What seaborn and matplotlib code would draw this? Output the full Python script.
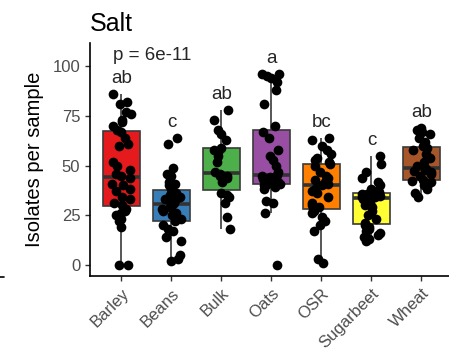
import numpy as np
import pandas as pd
import matplotlib
matplotlib.use("Agg")
import matplotlib.pyplot as plt
import seaborn as sns
from matplotlib.lines import Line2D

# values
crops = ["Barley", "Beans", "Bulk", "Oats", "OSR", "Sugarbeet", "Wheat"]
letters = ["ab", "c", "ab", "a", "bc", "c", "ab"]
colors = ["#E41A1C", "#377EB8", "#4DAF4A", "#984EA3", "#FF7F00", "#FFFF33", "#A65628"]

barley = [86, 82, 81, 77, 76, 73, 72, 70, 68, 67, 64, 61, 60, 52, 50, 48, 46, 45,
          44, 41, 40, 38, 37, 34, 33, 31, 30, 28, 27, 26, 25, 23, 22, 19, 0, 0]
beans = [64, 61, 49, 46, 45, 42, 41, 40, 38, 36, 35, 34, 33, 33, 32, 32, 31, 30,
         29, 28, 27, 26, 25, 24, 23, 22, 20, 18, 17, 14, 12, 5, 3, 2]
bulk = [78, 73, 68, 66, 63, 59, 58, 57, 55, 52, 47, 45, 46, 44, 45, 42, 36, 35,
        34, 31, 24, 18]
oats = [96, 96, 95, 94, 92, 88, 81, 70, 67, 64, 58, 55, 53, 50, 47, 45.5, 45,
        44.5, 44, 43.5, 43, 42.5, 42, 41, 40.5, 40, 39, 38, 32, 31, 26, 0]
osr = [64, 63, 60, 58, 56, 54, 53, 52, 51, 50, 47, 45, 44, 43, 42, 41, 40, 38,
       37, 36, 34, 31, 30, 29, 28, 27, 26, 24, 22, 20, 17, 3, 1]
sugarbeet = [55, 51, 47, 44, 42, 40, 38, 37, 36.5, 36, 36, 35.5, 35.5, 35, 35,
             34.5, 34, 34, 33, 32, 31, 30, 29, 27, 25, 23, 21, 20, 19, 18, 17,
             16, 15, 14, 13, 12]
wheat = [69, 68, 67, 66, 64, 62, 60, 59, 58, 56, 54, 52, 50, 49, 48.5, 48, 47.5,
         47, 46, 45, 43, 42.5, 42, 41, 40, 38, 36, 34]

groups = [barley, beans, bulk, oats, osr, sugarbeet, wheat]
df = pd.DataFrame({
    "crop": np.repeat(crops, [len(g) for g in groups]),
    "isolates": np.concatenate(groups),
})

sns.set_style("ticks")
plt.rcParams["font.family"] = ["Liberation Sans", "DejaVu Sans"]

fig = plt.figure(figsize=(4.49, 3.53), dpi=100)
ax = fig.add_axes([0.2004, 0.2181, 0.7996, 0.6599])

sns.boxplot(data=df, x="crop", y="isolates", hue="crop", order=crops,
            palette=colors, saturation=1, legend=False, width=0.75,
            showcaps=False, showfliers=False, linewidth=1.2,
            linecolor="#3A3A3A",
            medianprops=dict(linewidth=2.6, color="#333333"), ax=ax)

np.random.seed(7)
sns.stripplot(data=df, x="crop", y="isolates", order=crops, color="black",
              size=7, jitter=0.2, ax=ax)

for i, (g, lab) in enumerate(zip(groups, letters)):
    ax.text(i, max(g) + 5.5, lab, ha="center", va="baseline", fontsize=13.5)

ax.text(-0.17, 103, "p = 6e-11", ha="left", va="baseline", fontsize=13.5)

ax.set_xlim(-0.63, 6.55)
ax.set_ylim(-5.5, 111.6)
ax.set_yticks([0, 25, 50, 75, 100])
ax.set_xlabel("")
ax.set_ylabel("Isolates per sample", fontsize=14.5, color="black", labelpad=6)
ax.set_title("Salt", loc="left", fontsize=18, pad=9, color="black")

for s in ["top", "right"]:
    ax.spines[s].set_visible(False)
for s in ["left", "bottom"]:
    ax.spines[s].set_linewidth(1.2)
    ax.spines[s].set_color("black")
ax.tick_params(axis="both", colors="#333333", labelcolor="#4D4D4D",
               labelsize=12, length=3.5, width=1)
plt.setp(ax.get_xticklabels(), rotation=45, ha="right", rotation_mode="anchor")

# stray axis fragment at the far left edge
fig.add_artist(Line2D([0, 0.01], [0.2155, 0.2155], color="black", lw=1.2))

fig.savefig("out.png", dpi=100)
